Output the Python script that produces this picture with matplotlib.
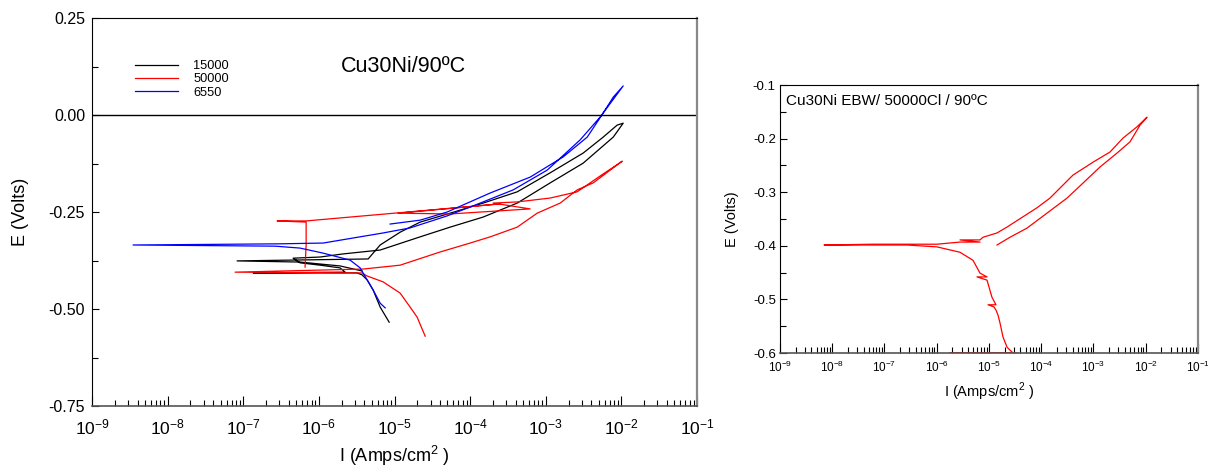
import matplotlib
matplotlib.use("Agg")
import matplotlib.pyplot as plt
import numpy as np
from matplotlib.ticker import LogLocator, FormatStrFormatter, MultipleLocator, NullFormatter

plt.rcParams["font.family"] = ["Liberation Sans", "DejaVu Sans"]
plt.rcParams["axes.unicode_minus"] = False
plt.rcParams["mathtext.fontset"] = "custom"
plt.rcParams["mathtext.rm"] = "Liberation Sans"

# ---- left panel: Cu30Ni / 90 C, three chloride levels (log10 I, E) ----
black_logI = [-5.071, -5.190, -5.283, -5.362, -5.429, -5.495, -6.870, -5.653, -5.720,
              -5.984, -6.249, -6.341, -5.984, -5.680, -5.190, -4.661, -4.265, -3.828,
              -3.378, -2.942, -2.505, -2.108, -1.976,
              -2.056, -2.241, -2.505, -2.942, -3.378, -3.828, -4.265, -4.661, -4.926,
              -5.190, -5.349, -7.082, -6.249, -5.720, -5.429]
black_E = [-0.534, -0.495, -0.451, -0.425, -0.412, -0.407, -0.407, -0.405, -0.394,
           -0.387, -0.381, -0.369, -0.366, -0.358, -0.348, -0.314, -0.289, -0.263,
           -0.227, -0.175, -0.124, -0.057, -0.021,
           -0.026, -0.057, -0.098, -0.149, -0.198, -0.227, -0.253, -0.276, -0.302,
           -0.335, -0.371, -0.376, -0.379, -0.389, -0.402]

red_logI = [-4.595, -4.701, -4.794, -4.926, -5.151, -5.362, -5.429, -7.108, -5.415,
            -4.926, -4.397, -4.000, -3.735, -3.378, -3.114, -2.810, -2.585, -2.373,
            -2.148, -1.989,
            -2.280, -2.585, -2.942, -3.378, -3.696, -3.206, -4.265, -4.952, -3.603,
            -6.169, -6.553, -6.169, -6.169, -6.183]
red_E = [-0.570, -0.521, -0.495, -0.459, -0.430, -0.415, -0.407, -0.405, -0.397,
         -0.387, -0.353, -0.330, -0.314, -0.289, -0.253, -0.227, -0.193, -0.175,
         -0.142, -0.119,
         -0.157, -0.198, -0.214, -0.224, -0.227, -0.242, -0.255, -0.253, -0.229,
         -0.273, -0.273, -0.276, -0.335, -0.392]

blue_logI = [-5.124, -5.190, -5.283, -5.362, -5.455, -5.587, -5.944, -6.249, -6.579,
             -8.458, -6.513, -5.944, -5.548, -5.151, -4.794, -4.304, -3.868, -3.431,
             -2.981, -2.545, -2.280, -1.976,
             -2.108, -2.241, -2.452, -2.770, -3.206, -3.735, -4.304, -4.661, -5.058]
blue_E = [-0.497, -0.485, -0.451, -0.425, -0.394, -0.374, -0.356, -0.343, -0.338,
          -0.335, -0.332, -0.330, -0.317, -0.304, -0.291, -0.260, -0.227, -0.193,
          -0.142, -0.064, -0.005, 0.075,
          0.046, 0.005, -0.057, -0.108, -0.160, -0.201, -0.250, -0.271, -0.281]

series = [("15000", black_logI, black_E, "black"),
          ("50000", red_logI, red_E, "#ff0000"),
          ("6550", blue_logI, blue_E, "#0000ff")]

# ---- right panel: Cu30Ni EBW / 50000Cl / 90 C ----
ebw_logI = [-4.464, -5.746, -4.541, -4.655, -4.732, -4.789, -4.828, -4.866, -4.904,
            -5.019, -4.866, -4.943, -5.038, -5.230, -5.038, -5.172, -5.306, -5.555,
            -5.995, -6.569, -8.158, -7.239, -5.995, -5.555, -5.172, -5.555, -5.172,
            -5.115, -4.847, -4.655, -4.081, -3.833, -3.392, -3.010, -2.684, -2.435,
            -2.167, -1.976,
            -2.110, -2.301, -2.550, -2.876, -3.201, -3.507, -3.890, -4.273, -4.598,
            -4.847]
ebw_E = [-0.600, -0.600, -0.600, -0.589, -0.570, -0.544, -0.529, -0.520, -0.514,
         -0.510, -0.510, -0.496, -0.464, -0.458, -0.458, -0.451, -0.427, -0.412,
         -0.402, -0.3985, -0.3985, -0.397, -0.397, -0.393, -0.393, -0.389, -0.389,
         -0.384, -0.376, -0.365, -0.329, -0.311, -0.268, -0.244, -0.225, -0.199,
         -0.178, -0.160,
         -0.175, -0.206, -0.227, -0.253, -0.283, -0.311, -0.339, -0.367, -0.384,
         -0.3985]


def style_log_x(ax, size, pad):
    ax.set_xscale("log")
    ax.set_xlim(1e-9, 1e-1)
    ax.xaxis.set_major_locator(LogLocator(base=10, numticks=20))
    ax.xaxis.set_minor_locator(LogLocator(base=10, subs=np.arange(2, 10), numticks=100))
    ax.xaxis.set_minor_formatter(NullFormatter())
    ax.tick_params(axis="both", which="both", direction="in", top=False, right=False)
    ax.tick_params(axis="x", which="major", length=7, width=0.8, labelsize=size, pad=pad)
    ax.tick_params(axis="x", which="minor", length=4, width=0.8)
    ax.tick_params(axis="y", which="major", length=5, width=0.8)
    ax.tick_params(axis="y", which="minor", length=4, width=0.8)
    ax.spines["right"].set_color("#888888")
    ax.spines["right"].set_linewidth(1.6)
    ax.spines["bottom"].set_color("#555555")
    ax.spines["bottom"].set_linewidth(1.2)


fig = plt.figure(figsize=(12.08, 4.69), dpi=100)

ax = fig.add_axes([0.0762, 0.1343, 0.5008, 0.8273])
for label, li, e, c in series:
    ax.plot(10 ** np.array(li), e, color=c, lw=0.9, label=label)
ax.axhline(0, color="black", lw=1.0)
style_log_x(ax, 12.5, 8)
ax.set_ylim(-0.75, 0.25)
ax.yaxis.set_major_locator(MultipleLocator(0.25))
ax.yaxis.set_minor_locator(MultipleLocator(0.125))
ax.yaxis.set_major_formatter(FormatStrFormatter("%.2f"))
ax.tick_params(axis="y", which="major", labelsize=11.5, pad=5)
ax.set_xlabel("I (Amps/cm$^{2}$ )", fontsize=13, labelpad=5)
ax.set_ylabel("E (Volts)", fontsize=13, labelpad=14)
ax.text(0.412, 0.876, "Cu30Ni/90ºC", transform=ax.transAxes, fontsize=15.5, va="center")
ax.legend(loc="upper left", bbox_to_anchor=(0.062, 0.905), frameon=False, fontsize=9.2,
          handlelength=3.4, handletextpad=1.2, labelspacing=0.1, borderaxespad=0)

ax2 = fig.add_axes([0.6457, 0.2473, 0.346, 0.5714])
ax2.plot(10 ** np.array(ebw_logI), ebw_E, color="#ff0000", lw=0.9)
style_log_x(ax2, 8.5, 5)
ax2.set_ylim(-0.6, -0.1)
ax2.yaxis.set_major_locator(MultipleLocator(0.1))
ax2.yaxis.set_minor_locator(MultipleLocator(0.05))
ax2.yaxis.set_major_formatter(FormatStrFormatter("%.1f"))
ax2.tick_params(axis="y", which="major", labelsize=9.5, pad=3)
ax2.set_xlabel("I (Amps/cm$^{2}$ )", fontsize=10.5, labelpad=4)
ax2.set_ylabel("E (Volts)", fontsize=10.5, labelpad=10)
ax2.text(0.015, 0.94, "Cu30Ni EBW/ 50000Cl / 90ºC", transform=ax2.transAxes,
         fontsize=11, va="center")

fig.savefig("out.png", dpi=100)
